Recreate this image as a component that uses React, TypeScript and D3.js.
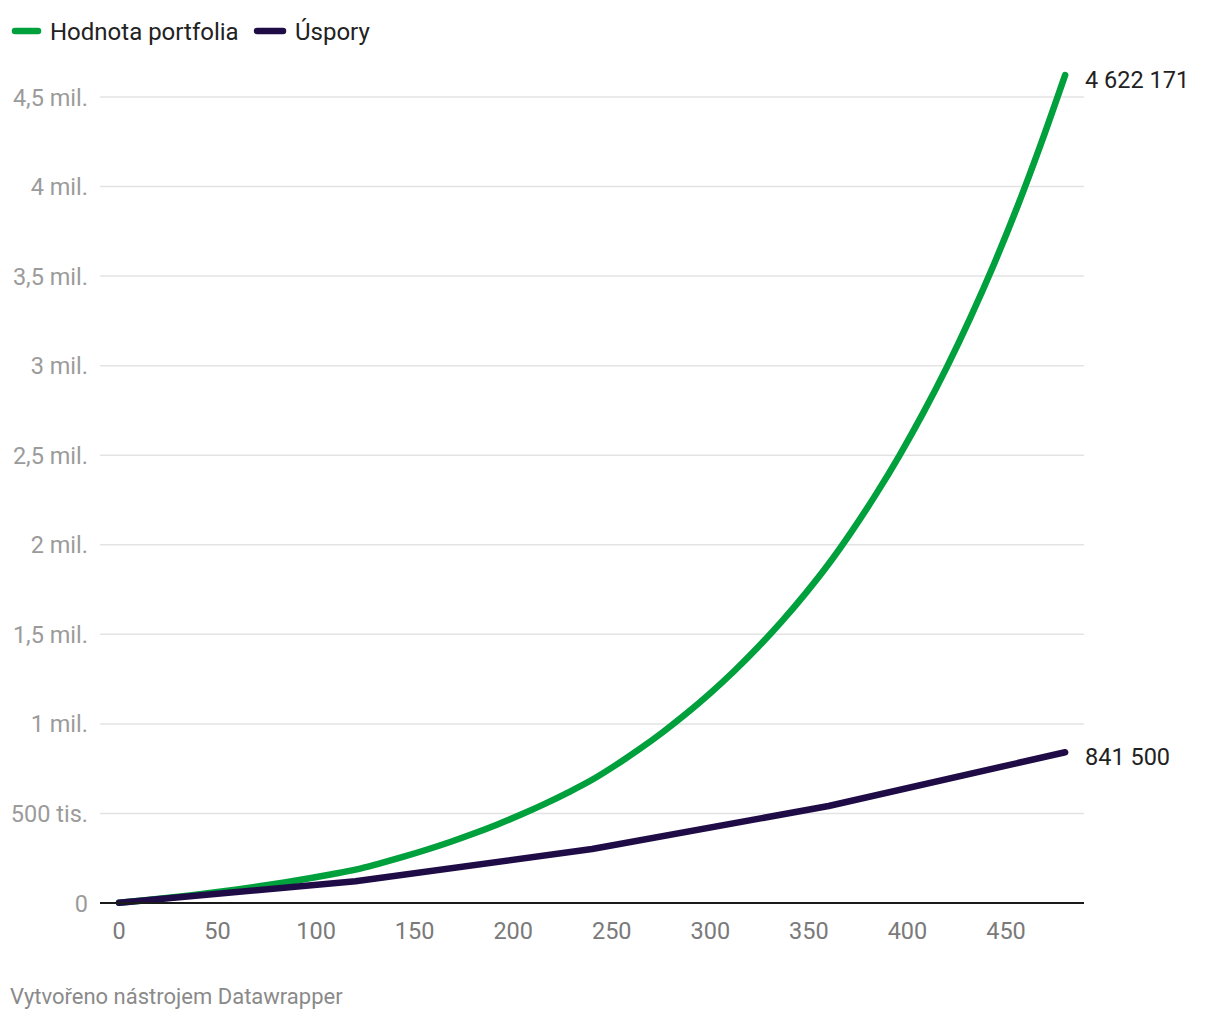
import React from 'react';
import { scaleLinear, line, curveMonotoneX, formatLocale } from 'd3';

// Months on x axis, portfolio value read roughly once a year
const portfolioMonths = [
  0, 12, 24, 36, 48, 60, 72, 84, 96, 108, 120, 132, 144, 156, 168, 180, 192, 204, 216, 228, 240,
  252, 264, 276, 288, 300, 312, 324, 336, 348, 360, 372, 384, 396, 408, 420, 432, 444, 456, 468, 480,
];
const portfolioValues = [
  1500, 14075, 27693, 42442, 58415, 75713, 94447, 114736, 136709, 160506, 186278,
  220414, 257383, 297421, 340782, 387742, 438600, 493679, 553329, 617930, 687893,
  769888, 858689, 954860, 1059013, 1171811, 1293971, 1426271, 1569552, 1724725, 1892777,
  2079400, 2281300, 2499800, 2736300, 2992100, 3269900, 3569400, 3894000, 4246600, 4622171,
];

// Savings grow linearly with a higher monthly deposit every 10 years
const savingsMonths = [0, 120, 240, 360, 480];
const savingsValues = [1500, 121500, 301500, 541500, 841500];

const seriesNames = ['Hodnota portfolia', 'Úspory'];
const seriesColors = ['#00a03c', '#1f0c47'];

const yTicks = [0, 500000, 1000000, 1500000, 2000000, 2500000, 3000000, 3500000, 4000000, 4500000];
const yTickLabels = ['0', '500 tis.', '1 mil.', '1,5 mil.', '2 mil.', '2,5 mil.', '3 mil.', '3,5 mil.', '4 mil.', '4,5 mil.'];
const xTicks = [0, 50, 100, 150, 200, 250, 300, 350, 400, 450];

const FONT = 'Roboto, "Noto Sans", sans-serif';

const cz = formatLocale({ decimal: ',', thousands: ' ', grouping: [3], currency: ['', ' Kč'] });
const fmt = cz.format(',d');

export default function App() {
  const width = 1220;
  const height = 1020;

  const x = scaleLinear().domain([0, 450]).range([119, 1006]);
  const y = scaleLinear().domain([0, 4500000]).range([903, 97]);

  const gridLeft = 100;
  const gridRight = 1084;

  const pts = (ms: number[], vs: number[]) => ms.map((m, i) => [m, vs[i]] as [number, number]);
  const curve = line<[number, number]>()
    .x(d => x(d[0]))
    .y(d => y(d[1]))
    .curve(curveMonotoneX);
  const straight = line<[number, number]>()
    .x(d => x(d[0]))
    .y(d => y(d[1]));

  const portfolio = pts(portfolioMonths, portfolioValues);
  const savings = pts(savingsMonths, savingsValues);
  const lastP = portfolio[portfolio.length - 1];
  const lastS = savings[savings.length - 1];

  return (
    <svg
      width={width}
      height={height}
      style={{ position: 'absolute', left: 0, top: 0, background: '#fff' }}
      fontFamily={FONT}
    >
      {/* legend */}
      <g>
        <line x1={15} x2={38} y1={31} y2={31} stroke={seriesColors[0]} strokeWidth={6.5} strokeLinecap="round" />
        <text x={50} y={40} fontSize={24} fill="#222">{seriesNames[0]}</text>
        <line x1={257} x2={283} y1={31} y2={31} stroke={seriesColors[1]} strokeWidth={6.5} strokeLinecap="round" />
        <text x={295} y={40} fontSize={24} fill="#222">{seriesNames[1]}</text>
      </g>

      {/* grid + y labels */}
      {yTicks.map((t, i) => (
        <g key={t}>
          {t !== 0 && (
            <line x1={gridLeft} x2={gridRight} y1={y(t)} y2={y(t)} stroke="#e3e3e3" strokeWidth={1.5} />
          )}
          <text x={88} y={y(t) + 8.5} textAnchor="end" fontSize={23.5} fill="#9b9b9b">
            {yTickLabels[i]}
          </text>
        </g>
      ))}

      {/* x labels */}
      {xTicks.map(t => (
        <text key={t} x={x(t)} y={939} textAnchor="middle" fontSize={23.5} fill="#7a7a7a">
          {t}
        </text>
      ))}

      {/* lines */}
      <path d={curve(portfolio) || ''} fill="none" stroke={seriesColors[0]} strokeWidth={6.5} strokeLinecap="round" strokeLinejoin="round" />
      <path d={straight(savings) || ''} fill="none" stroke={seriesColors[1]} strokeWidth={6.5} strokeLinecap="round" strokeLinejoin="round" />

      {/* baseline */}
      <line x1={gridLeft} x2={gridRight} y1={y(0)} y2={y(0)} stroke="#1a1a1a" strokeWidth={2} />

      {/* end labels */}
      <text x={1085} y={y(lastP[1]) + 13} fontSize={23.5} fill="#222">{fmt(lastP[1])}</text>
      <text x={1085} y={y(lastS[1]) + 13} fontSize={23.5} fill="#222">{fmt(lastS[1])}</text>

      {/* footer */}
      <text x={10} y={1004} fontSize={22} fill="#8a8a8a">Vytvořeno nástrojem Datawrapper</text>
    </svg>
  );
}
